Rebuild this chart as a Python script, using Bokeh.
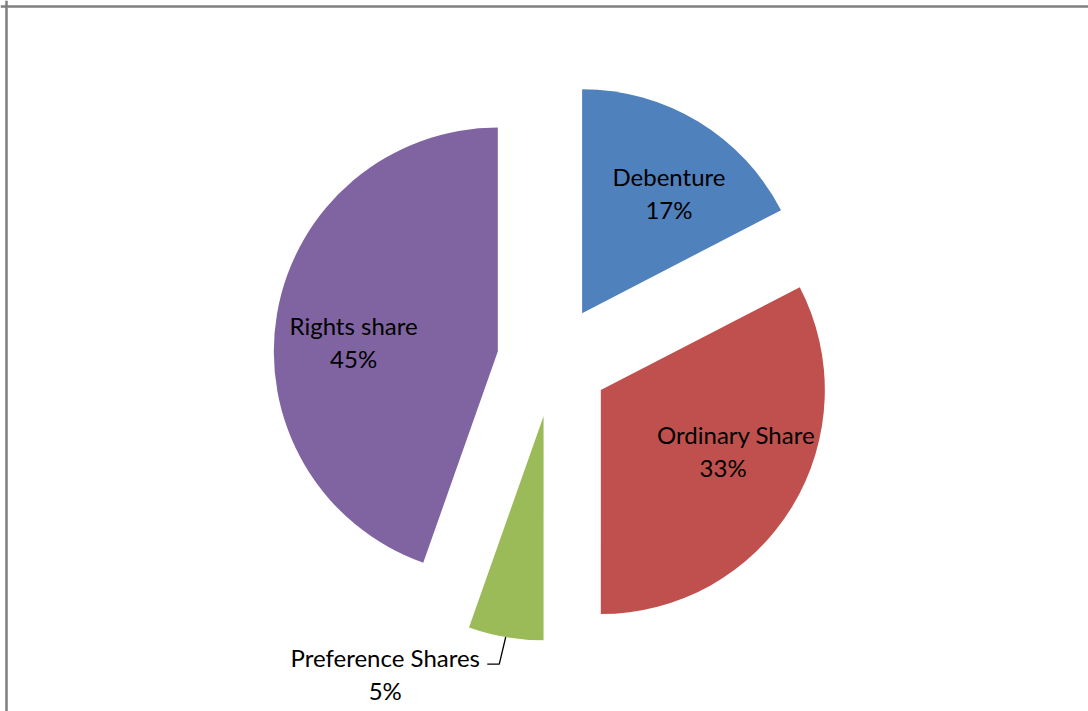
import math
from bokeh.plotting import figure
from bokeh.models import Range1d, Span, ColumnDataSource
from bokeh.core.properties import value
from bokeh.embed import file_html
from bokeh.resources import INLINE

# ---- data ----
categories = ["Debenture", "Ordinary Share", "Preference Shares", "Rights share"]
values = [17.4, 32.6, 5.4, 44.6]
pct_labels = ["17%", "33%", "5%", "45%"]

# ---- style / layout ----
colors = ["#4F81BD", "#C0504D", "#9BBB59", "#8064A2"]
W, H = 1088, 711
CX, CY = 552.5, H - 360.5      # pie centre (px units, y up)
R = 224                        # radius
EXPLODE = 56                   # explosion distance
label_inside = [True, True, False, True]
label_dist = [0.66, 0.66, 1.25, 0.66]     # fraction of R from slice apex
label_nudge_x = [10, 9, -111, 1.5]
label_nudge_y = [-6.5, 16, 18, -15]
pct_nudge_x = [0, -13, 0, 0]
LINE_GAP = 33
FONT = value("Lato")
FONT_SIZE = "24px"

p = figure(width=W, height=H, output_backend="svg", toolbar_location=None,
           x_range=Range1d(0, W), y_range=Range1d(0, H),
           x_axis_location=None, y_axis_location=None, min_border=0)
p.grid.visible = False
p.outline_line_color = None
p.background_fill_color = "white"
p.border_fill_color = "white"

total = float(sum(values))
xs, ys, starts, ends = [], [], [], []
name_x, name_y, pct_x, pct_y = [], [], [], []
leader_xs, leader_ys = [], []
cum = 0.0
for i, v in enumerate(values):
    a0 = 360.0 * cum / total
    cum += v
    a1 = 360.0 * cum / total
    mid = math.radians(90 - (a0 + a1) / 2)
    ux, uy = math.cos(mid), math.sin(mid)
    ax, ay = CX + EXPLODE * ux, CY + EXPLODE * uy
    xs.append(ax); ys.append(ay)
    starts.append(math.radians(90 - a1)); ends.append(math.radians(90 - a0))
    lx = ax + label_dist[i] * R * ux + label_nudge_x[i]
    ly = ay + label_dist[i] * R * uy + label_nudge_y[i]
    name_x.append(lx); name_y.append(ly + LINE_GAP / 2)
    pct_x.append(lx + pct_nudge_x[i]); pct_y.append(ly - LINE_GAP / 2)
    if not label_inside[i]:
        mx, my = ax + R * ux, ay + R * uy
        leader_xs.append([mx, lx + 114, lx + 102])
        leader_ys.append([my, ly + 10, ly + 10])

src = ColumnDataSource(dict(x=xs, y=ys, start=starts, end=ends, color=colors))
p.wedge(x="x", y="y", radius=R, start_angle="start", end_angle="end",
        direction="anticlock", fill_color="color", line_color=None, source=src)

if leader_xs:
    p.multi_line(xs=leader_xs, ys=leader_ys, line_color="black", line_width=1.3)

p.text(x=name_x, y=name_y, text=categories, text_align="center", text_baseline="middle",
       text_font=FONT, text_font_size=FONT_SIZE, text_color="black")
p.text(x=pct_x, y=pct_y, text=pct_labels, text_align="center", text_baseline="middle",
       text_font=FONT, text_font_size=FONT_SIZE, text_color="black")

# chart border (left and top edges visible in the frame)
p.add_layout(Span(location=6, dimension="height", line_color="#7f7f7f", line_width=2.5))
p.add_layout(Span(location=H - 6, dimension="width", line_color="#7f7f7f", line_width=2.5))

open("out.html", "w").write(file_html(p, INLINE))
